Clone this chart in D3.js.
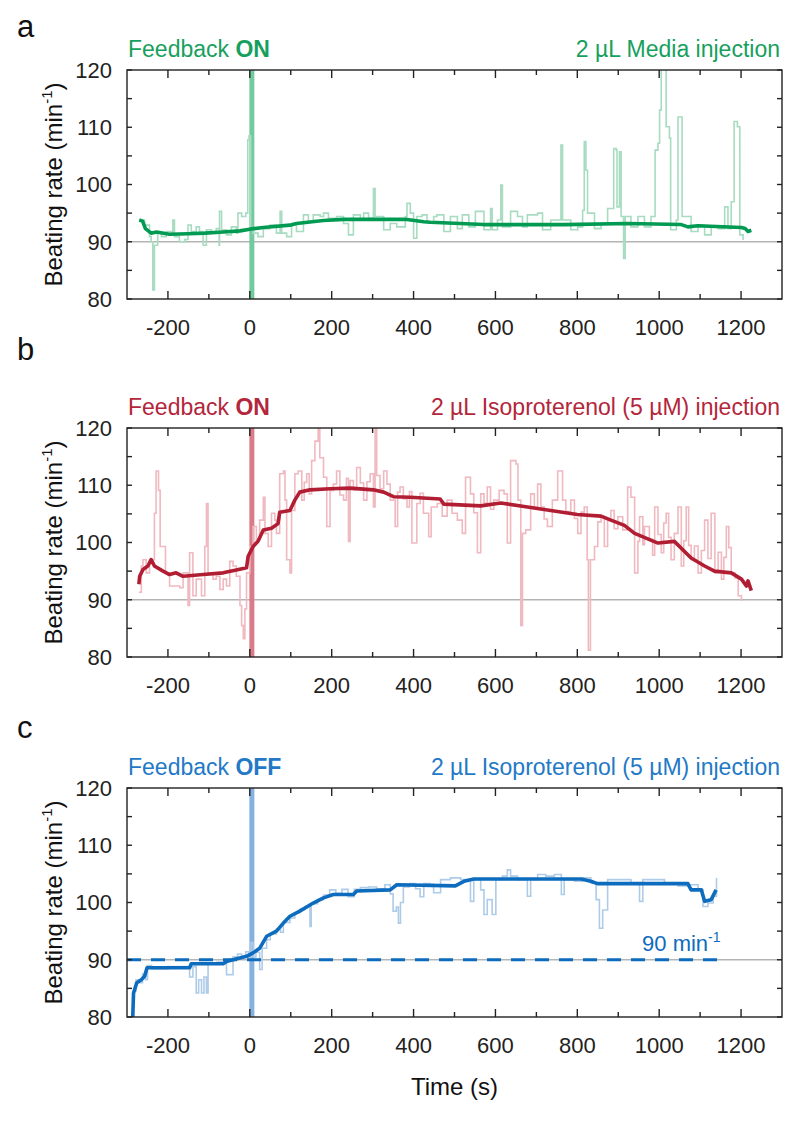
<!DOCTYPE html>
<html><head><meta charset="utf-8">
<script src="https://cdn.jsdelivr.net/npm/d3@7"></script>
<style>
body{margin:0;background:#fff;}
svg{display:block;font-family:Arial,"Liberation Sans",sans-serif;}
</style></head>
<body><svg id="chart" width="800" height="1121"></svg>
<script>
// ---------------- data ----------------
const xTicksMajor = [-200,0,200,400,600,800,1000,1200];
const xTicksMinor = [-100,100,300,500,700,900,1100];
const yTicksMajor = [80,90,100,110,120];
const yTicksMinor = [85,95,105,115];
const xDomain = [-300,1300];
const yDomain = [80,120];
const injectionTime = 5;
const targetRate = 90;
const panelLetters = ["a","b","c"];
const feedbackStates = ["ON","ON","OFF"];
const injections = ["2 µL Media injection","2 µL Isoproterenol (5 µM) injection","2 µL Isoproterenol (5 µM) injection"];
const dashedTarget = [[-300,90],[1145,90]];

// Panel a: raw beat rate and smoothed
const rawA = [[-270,93.8],[-257,92.9],[-245,90.9],[-241,90],[-237,81.6],[-233,89.4],[-225,91.5],[-216,90.9],[-204,91.8],[-192,91.5],[-188,93.8],[-184,90.9],[-172,90],[-159,90.4],[-151,92.9],[-143,91.8],[-131,92.6],[-123,91.8],[-114,89.4],[-106,92.1],[-94,91.5],[-82,92.3],[-75,89.4],[-74,95.3],[-69,92.1],[-57,91.2],[-45,92.6],[-33,91.5],[-29,95],[-20,94.4],[-10,95],[-5,107.8],[-2,108.5],[2,92],[8,91.5],[20,90.9],[33,92.3],[49,92.9],[65,91.5],[74,95.3],[78,91.5],[90,90.9],[102,93.2],[114,91.8],[131,94.7],[143,93.5],[155,94.7],[172,94.4],[180,95],[192,94.1],[212,94.4],[229,93.2],[241,91.2],[253,94.7],[270,93.8],[278,95],[290,94.1],[302,99.3],[306,94.4],[327,92.1],[343,93.2],[359,92.6],[380,94.4],[384,96.7],[392,95],[400,90.6],[408,94.4],[421,94.7],[433,93.5],[449,94.4],[457,94.7],[474,91.8],[490,94.4],[507,92.3],[519,94.7],[535,92.6],[551,95.3],[572,92.1],[588,95.8],[592,92.1],[605,93.8],[613,99.9],[617,92.6],[637,95.3],[654,94.4],[666,92.6],[678,94.7],[703,95],[715,92.1],[735,93.8],[756,93.8],[760,106.9],[764,93.8],[784,92.1],[801,92.6],[813,95.5],[817,107.5],[821,102.5],[825,95],[842,92.3],[858,93.2],[874,95.8],[889,106.3],[895,106],[897,96.1],[903,105.7],[907,94.4],[913,87.1],[917,94.4],[931,92.6],[948,94.4],[964,92.6],[980,94.4],[990,106],[997,107.2],[1001,113],[1005,121.7],[1013,121.7],[1017,110.1],[1025,108.1],[1028,92.1],[1042,93.8],[1046,111.8],[1052,111.8],[1056,94.4],[1078,91.8],[1095,92.9],[1111,91.2],[1127,92.6],[1144,92.3],[1160,96.1],[1168,92.3],[1176,97],[1183,111],[1191,110.1],[1197,91.2],[1205,90.3]];
const smoothA = [[-270,93.8],[-262,93.6],[-255,92.3],[-241,91.5],[-228,91.7],[-196,91.3],[-150,91.4],[-110,91.5],[-65,91.7],[-24,91.9],[0,92.2],[33,92.5],[98,92.9],[114,93.2],[180,93.7],[229,93.9],[302,93.9],[384,93.9],[425,93.5],[441,93.4],[571,93],[768,93],[923,93.2],[1054,93],[1070,92.6],[1094,92.8],[1201,92.5],[1210,92.3],[1217,91.8],[1225,92]];

// Panel b
const rawB = [[-271,91.3],[-265,95.9],[-261,97],[-253,94.7],[-245,97],[-237,97],[-233,105.1],[-229,112.5],[-223,109.1],[-219,99.3],[-212,99.3],[-206,94.7],[-196,92.4],[-180,92.4],[-171,92.1],[-163,94.7],[-151,89],[-147,98.2],[-139,90.7],[-131,93.6],[-118,90.7],[-110,99.3],[-106,106.8],[-102,94.7],[-90,93.6],[-82,94.1],[-73,91.8],[-65,93.6],[-57,92.4],[-49,96.7],[-41,95.9],[-33,94.1],[-24,89],[-20,85.5],[-16,83.2],[-12,88.4],[-8,94.7],[0,99.3],[8,102.8],[16,100.5],[24,103.9],[33,107.9],[37,101.6],[45,99.3],[53,105.1],[61,103.9],[65,101.6],[73,112],[82,112.5],[86,107.4],[90,97],[98,94.7],[102,105.6],[110,112],[118,112.5],[127,107.4],[133,110.5],[139,112],[145,108.5],[151,114.3],[159,117.7],[167,120.3],[171,114.8],[180,111.4],[188,102.8],[196,109.1],[204,110.2],[212,112.5],[220,108.3],[229,107.4],[236,111.2],[241,100.2],[245,110.8],[253,109.2],[261,113.1],[270,110.4],[278,107.4],[286,110.6],[294,112],[302,106.2],[306,124.9],[310,111.7],[318,109.4],[327,112.5],[335,110.2],[343,107.4],[355,102.8],[361,108.8],[367,109.7],[375,107.6],[384,106.2],[390,108.9],[396,99.9],[408,106.8],[416,108.6],[424,105.1],[437,101],[443,106.2],[449,106.2],[458,106.8],[470,104.6],[482,107.4],[494,105.1],[507,103.9],[519,101.6],[527,111.4],[539,108.5],[547,105.2],[556,98.2],[564,108.5],[572,106.9],[580,109.7],[588,105.8],[596,107.4],[609,109.1],[621,108.5],[629,99.9],[637,114.3],[650,113.7],[655,107.4],[662,85.5],[666,101.6],[674,102.2],[686,108.5],[695,106.1],[703,110.2],[711,106.2],[719,104.1],[727,102.8],[739,107.4],[752,112.5],[764,107.4],[772,105.4],[784,107.4],[793,104.2],[801,101.6],[809,105.3],[817,106.2],[824,97],[827,81.2],[832,97],[842,99.3],[850,103.6],[858,104.5],[866,99.3],[874,104.1],[882,105.6],[890,102.4],[899,104.5],[911,102.2],[923,109.7],[931,107.9],[940,94.7],[948,100.2],[952,104.5],[960,99.6],[964,102.8],[976,100.5],[984,97.8],[989,106.2],[997,101.4],[1005,98.2],[1011,103.4],[1017,105.1],[1023,100.9],[1029,97],[1037,101.6],[1046,106.2],[1054,95.9],[1060,100.3],[1066,106.2],[1072,99.5],[1078,97],[1086,99.4],[1095,94.7],[1103,98.6],[1111,103.9],[1119,97.2],[1127,105.1],[1136,94.7],[1144,98.3],[1152,93.6],[1158,97.4],[1164,102.8],[1170,99.1],[1176,94.7],[1185,93.8],[1193,90.7],[1201,89.8]];
const smoothB = [[-271,92.7],[-269,94.1],[-261,95.3],[-249,95.9],[-241,97],[-233,95.9],[-212,95],[-196,94.4],[-180,94.7],[-163,94.1],[-114,94.4],[-65,94.7],[-33,95.2],[-8,95.6],[-4,97.6],[8,99.3],[20,100.2],[33,102.2],[53,102.5],[69,103.3],[73,105.3],[98,105.6],[110,107.4],[122,108.8],[147,109.2],[196,109.4],[245,109.5],[302,109.2],[327,108.8],[351,108],[392,107.9],[465,107.6],[474,106.7],[564,106.4],[613,106.9],[670,106.3],[735,105.6],[800,104.9],[858,104.6],[882,103.9],[915,103],[940,101.6],[997,99.9],[1037,100.2],[1078,97.3],[1111,95.9],[1135,95],[1176,94.7],[1201,93.6],[1213,92.4],[1217,93.3],[1225,91.6]];

// Panel c
const rawC = [[-286,80],[-284,84.5],[-278,86.5],[-270,86],[-262,87.5],[-255,86.5],[-250,89],[-240,88.4],[-200,88.8],[-150,88.6],[-147,87],[-139,88.8],[-131,84.2],[-125,86.5],[-118,84.2],[-112,87],[-106,84.2],[-102,89.3],[-80,89.6],[-57,87.4],[-45,87.4],[-41,90.5],[-30,91],[-20,90.4],[-10,91.4],[-3,90.2],[3,93],[8,90.5],[15,91.3],[24,88.3],[30,92],[41,93.5],[50,94.5],[65,95.3],[75,94.8],[82,96.5],[98,97.3],[110,98.2],[122,98.8],[135,99.2],[147,95.8],[150,99.8],[165,100.5],[180,101.3],[195,102.2],[210,101.6],[225,102.3],[240,101],[255,102.3],[270,102.6],[290,102.7],[310,102.4],[330,103.1],[343,101.5],[350,98.5],[358,99.2],[363,96.4],[368,100],[375,102.7],[390,103.3],[405,102.4],[416,101],[425,103.3],[440,103.2],[449,101.7],[466,104],[490,104.3],[515,104],[539,100.2],[547,104],[564,102.2],[572,97.9],[580,100.5],[592,97.9],[601,104],[617,104.6],[629,105.7],[637,104.6],[654,104],[678,101.1],[686,104],[703,104.9],[723,104.6],[744,104.9],[761,101.4],[768,104],[793,103.7],[813,104.3],[833,103.4],[846,100.5],[854,95.5],[862,98.7],[874,104],[899,104],[931,103.4],[952,100.2],[960,104],[980,104],[1013,103.4],[1046,102.9],[1070,103.1],[1095,102.2],[1107,99.3],[1119,99.9],[1132,101.1],[1140,104.3]];
const smoothC = [[-286,80],[-284,84.2],[-276,86],[-265,86.5],[-257,87.1],[-251,88.6],[-147,88.6],[-143,89.3],[-65,89.3],[-57,89.7],[-41,90],[-8,90.6],[8,91.2],[24,92],[41,94.1],[65,95],[82,96.4],[98,97.6],[122,98.5],[155,99.9],[180,100.8],[204,101.4],[253,101.4],[261,102],[343,102.2],[359,103.1],[502,102.9],[523,103.7],[547,104.1],[809,104.1],[833,103.7],[849,103.3],[1070,103.3],[1078,102.2],[1103,102.2],[1111,100.2],[1127,100.5],[1139,102.2]];

// ---------------- layout ----------------
const svg = d3.select("#chart");
const L = 127, R = 782, H = 229;
const tops = [70, 428, 788];
const letterY = [37, 360, 738];
const palettes = [
  {title:"#17a05d", raw:"#a8dcc1", bar:"#72cb9e", main:"#009a52"},
  {title:"#b3263c", raw:"#f0b9c0", bar:"#d97b88", main:"#b11e33"},
  {title:"#2379c6", raw:"#aecbe8", bar:"#84b1e0", main:"#0d6cbd"}
];
const raws = [rawA, rawB, rawC];
const smooths = [smoothA, smoothB, smoothC];

const x = d3.scaleLinear().domain(xDomain).range([0, R-L]);
const y = d3.scaleLinear().domain(yDomain).range([H, 0]);
const W = R - L;

tops.forEach((top, i) => {
  const pal = palettes[i];
  const g = svg.append("g").attr("transform", `translate(${L},${top})`);
  const cid = "clip" + i;
  g.append("clipPath").attr("id", cid).append("rect").attr("width", W).attr("height", H);
  const plot = g.append("g").attr("clip-path", `url(#${cid})`);

  plot.append("line").attr("x1", 0).attr("x2", W).attr("y1", y(targetRate)).attr("y2", y(targetRate))
    .attr("stroke", "#b4b4b4").attr("stroke-width", 1.3);

  plot.append("line").attr("x1", x(injectionTime)).attr("x2", x(injectionTime)).attr("y1", 0).attr("y2", H)
    .attr("stroke", pal.bar).attr("stroke-width", 5);

  const lineStep = d3.line().x(d => x(d[0])).y(d => y(d[1])).curve(d3.curveStepAfter);
  const lineLin = d3.line().x(d => x(d[0])).y(d => y(d[1]));

  plot.append("path").datum(raws[i]).attr("d", lineStep).attr("fill", "none")
    .attr("stroke", pal.raw).attr("stroke-width", 1.6);

  if (i === 2) {
    plot.append("path").datum(dashedTarget).attr("d", lineLin).attr("fill", "none")
      .attr("stroke", pal.main).attr("stroke-width", 3).attr("stroke-dasharray", "14,10");
  }

  plot.append("path").datum(smooths[i]).attr("d", lineLin).attr("fill", "none")
    .attr("stroke", pal.main).attr("stroke-width", 3.6).attr("stroke-linejoin", "round");

  g.append("rect").attr("width", W).attr("height", H).attr("fill", "none")
    .attr("stroke", "#222").attr("stroke-width", 1.4);

  const tk = g.append("g").attr("stroke", "#222").attr("stroke-width", 1.4);
  xTicksMajor.forEach(t => {
    tk.append("line").attr("x1", x(t)).attr("x2", x(t)).attr("y1", H).attr("y2", H - 8);
    tk.append("line").attr("x1", x(t)).attr("x2", x(t)).attr("y1", 0).attr("y2", 8);
  });
  xTicksMinor.forEach(t => {
    tk.append("line").attr("x1", x(t)).attr("x2", x(t)).attr("y1", H).attr("y2", H - 5);
    tk.append("line").attr("x1", x(t)).attr("x2", x(t)).attr("y1", 0).attr("y2", 5);
  });
  yTicksMajor.concat(yTicksMinor).forEach(v => {
    tk.append("line").attr("x1", 0).attr("x2", 5).attr("y1", y(v)).attr("y2", y(v));
    tk.append("line").attr("x1", W).attr("x2", W - 5).attr("y1", y(v)).attr("y2", y(v));
  });

  g.selectAll(".xl").data(xTicksMajor).enter().append("text")
    .attr("x", d => x(d)).attr("y", H + 36).attr("text-anchor", "middle")
    .attr("font-size", 22).attr("fill", "#222").text(d => d);
  g.selectAll(".yl").data(yTicksMajor).enter().append("text")
    .attr("x", -15).attr("y", d => y(d)).attr("dy", "0.36em").attr("text-anchor", "end")
    .attr("font-size", 22).attr("fill", "#222").text(d => d);

  const yt = g.append("text").attr("transform", `translate(${62 - L},${H / 2}) rotate(-90)`)
    .attr("text-anchor", "middle").attr("font-size", 24).attr("fill", "#111");
  yt.append("tspan").text("Beating rate (min");
  yt.append("tspan").attr("font-size", 15).attr("dy", -10).text("-1");
  yt.append("tspan").attr("dy", 10).text(")");

  const t1 = g.append("text").attr("x", 1).attr("y", -13).attr("font-size", 23).attr("fill", pal.title);
  t1.append("tspan").text("Feedback ");
  t1.append("tspan").attr("font-weight", "bold").text(feedbackStates[i]);
  g.append("text").attr("x", W - 2).attr("y", -13).attr("text-anchor", "end").attr("font-size", 23)
    .attr("fill", pal.title).text(injections[i]);

  svg.append("text").attr("x", 17).attr("y", letterY[i]).attr("font-size", 31).attr("fill", "#111")
    .text(panelLetters[i]);

  if (i === 2) {
    const lab = g.append("text").attr("x", x(dashedTarget[1][0]) + 2).attr("y", y(targetRate) - 9)
      .attr("text-anchor", "end").attr("font-size", 22).attr("fill", pal.main);
    lab.append("tspan").text("90 min");
    lab.append("tspan").attr("font-size", 14).attr("dy", -9).text("-1");
  }
});

svg.append("text").attr("x", (L + R) / 2).attr("y", 1095).attr("text-anchor", "middle")
  .attr("font-size", 24).attr("fill", "#111").text("Time (s)");
</script></body></html>
